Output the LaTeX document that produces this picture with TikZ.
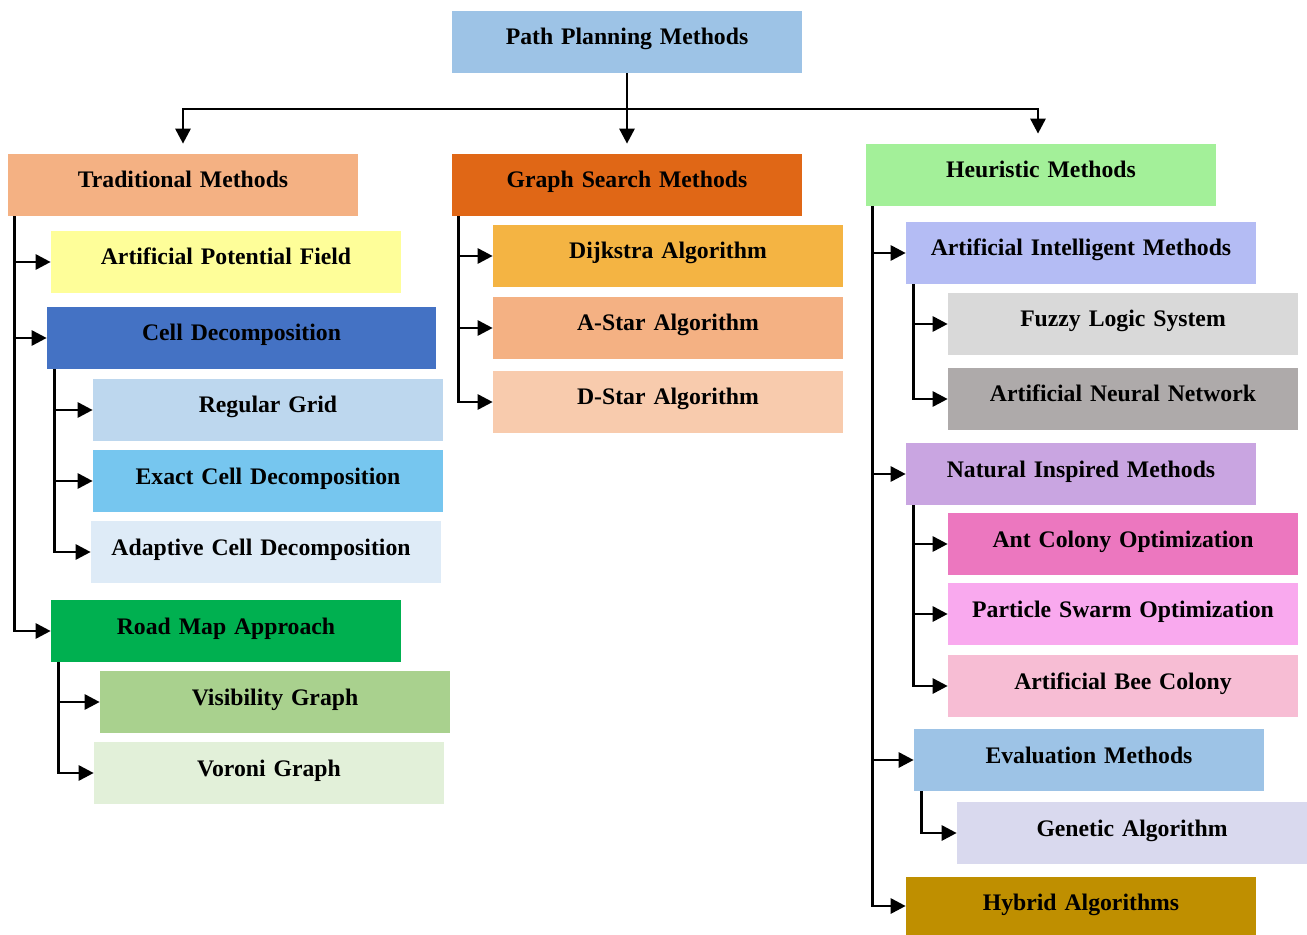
\documentclass[tikz,border=0pt]{standalone}
\usepackage{fontspec}
\setmainfont{Liberation Serif}
\usetikzlibrary{arrows.meta,positioning}
\definecolor{cRoot}{HTML}{9DC3E6}
\definecolor{cTrad}{HTML}{F4B183}
\definecolor{cGraph}{HTML}{E06716}
\definecolor{cHeur}{HTML}{A3F099}
\definecolor{cApf}{HTML}{FEFE99}
\definecolor{cCell}{HTML}{4472C4}
\definecolor{cGrid}{HTML}{BDD7EE}
\definecolor{cExact}{HTML}{76C6EF}
\definecolor{cAdapt}{HTML}{DEEBF7}
\definecolor{cRoad}{HTML}{00B050}
\definecolor{cVis}{HTML}{A9D18E}
\definecolor{cVor}{HTML}{E2F0D9}
\definecolor{cDijk}{HTML}{F4B443}
\definecolor{cAstar}{HTML}{F4B183}
\definecolor{cDstar}{HTML}{F8CBAD}
\definecolor{cAi}{HTML}{B4BCF4}
\definecolor{cFuzzy}{HTML}{D9D9D9}
\definecolor{cAnn}{HTML}{AEAAAA}
\definecolor{cNat}{HTML}{C9A5E1}
\definecolor{cAnt}{HTML}{EC77BF}
\definecolor{cPso}{HTML}{F9A9EE}
\definecolor{cAbc}{HTML}{F7BDD4}
\definecolor{cEval}{HTML}{9DC3E6}
\definecolor{cGen}{HTML}{D9D9EE}
\definecolor{cHyb}{HTML}{BF8F00}
\begin{document}
\begin{tikzpicture}[x=0.02cm,y=-0.02cm,
  box/.style={fill=#1, inner sep=0pt, text width=7cm, align=center,
    text height=0.68cm, text depth=0.56cm,
    font=\fontsize{13.5}{16}\selectfont\bfseries},
  arr/.style={line width=1.6pt, -{Triangle[length=0.3cm,width=0.3cm]}},
  trunk/.style={line width=1.6pt}]
\useasboundingbox (0,0) rectangle (1307,935);
\node [box=cRoot] (root) at (627,42) {Path Planning Methods};
\node [box=cTrad] (trad) at (183,185) {Traditional Methods};
\node [box=cGraph] (graph) at (627,185) {Graph Search Methods};
\node [box=cHeur] (heur) at (1041,175) {Heuristic Methods};
% traditional
\node [box=cApf] (apf) at (226,262) {Artificial Potential Field};
\node [box=cCell, text width=7.78cm] (cell) at (241.5,338) {Cell Decomposition};
\node [box=cGrid] (grid) at (268,410) {Regular Grid};
\node [box=cExact] (exact) at (268,481) {Exact Cell Decomposition};
\node [box=cAdapt] (adapt) at (266,552) {\hspace*{-0.2cm}Adaptive Cell Decomposition};
\node [box=cRoad] (road) at (226,631) {Road Map Approach};
\node [box=cVis] (vis) at (275,702) {Visibility Graph};
\node [box=cVor] (vor) at (269,773) {Voroni Graph};
% graph search
\node [box=cDijk] (dijk) at (668,256) {Dijkstra Algorithm};
\node [box=cAstar] (astar) at (668,328) {A-Star Algorithm};
\node [box=cDstar] (dstar) at (668,402) {D-Star Algorithm};
% heuristic
\node [box=cAi] (ai) at (1081,253) {Artificial Intelligent Methods};
\node [box=cFuzzy] (fuzzy) at (1123,324) {Fuzzy Logic System};
\node [box=cAnn] (ann) at (1123,399) {Artificial Neural Network};
\node [box=cNat] (nat) at (1081,474) {Natural Inspired Methods};
\node [box=cAnt] (ant) at (1123,544) {Ant Colony Optimization};
\node [box=cPso] (pso) at (1123,614) {Particle Swarm Optimization};
\node [box=cAbc] (abc) at (1123,686) {Artificial Bee Colony};
\node [box=cEval] (eval) at (1089,760) {Evaluation Methods};
\node [box=cGen] (gen) at (1132,833) {Genetic Algorithm};
\node [box=cHyb, text depth=0.5cm, text height=0.66cm] (hyb) at (1081,906) {Hybrid Algorithms};
% top level
\coordinate (hub) at (627,109);
\draw [trunk] (root.south) -- (hub);
\draw [arr] (hub) -| ([yshift=0.2cm]trad.north);
\draw [arr] (hub) -- ([yshift=0.2cm]graph.north);
\draw [arr] (hub) -| ([xshift=-0.06cm,yshift=0.2cm]heur.north);
% branches
\foreach \p/\c in {trad/apf, trad/cell, trad/road, graph/dijk, graph/astar, graph/dstar,
  heur/ai, heur/nat, heur/eval, heur/hyb}
  \draw [arr] ([xshift=0.13cm]\p.south west) |- (\c.west);
\foreach \p/\c in {cell/grid, cell/exact, cell/adapt, road/vis, road/vor,
  ai/fuzzy, ai/ann, nat/ant, nat/pso, nat/abc, eval/gen}
  \draw [arr] ([xshift=0.16cm]\p.south west) |- (\c.west);
\end{tikzpicture}
\end{document}
